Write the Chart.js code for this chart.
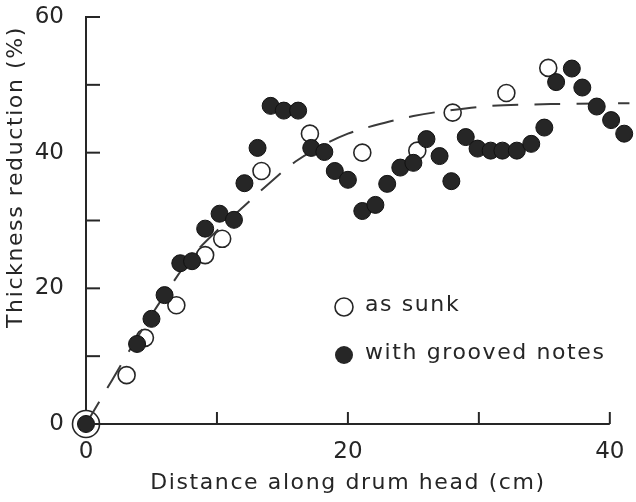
<!DOCTYPE html>
<html>
<head>
<meta charset="utf-8">
<script src="https://cdn.jsdelivr.net/npm/chart.js@4"></script>
<style>
  html, body { margin: 0; padding: 0; background: #fff; }
  #wrap { width: 636px; height: 502px; }
</style>
</head>
<body>
<div id="wrap"><canvas id="chart" width="636" height="502"></canvas></div>
<script>
/* ---------- data ---------- */
const sunkX = [0, 3.1, 4.5, 6.9, 9.1, 10.4, 13.4, 17.1, 21.1, 25.3, 28.0, 32.1, 35.3];
const sunkY = [0, 7.2, 12.7, 17.5, 24.9, 27.3, 37.3, 42.8, 40.0, 40.3, 45.9, 48.8, 52.5];

const groovedX = [0, 3.9, 5.0, 6.0, 7.2, 8.1, 9.1, 10.2, 11.3, 12.1, 13.1, 14.1, 15.1, 16.2,
  17.2, 18.2, 19.0, 20.0, 21.1, 22.1, 23.0, 24.0, 25.0, 26.0, 27.0, 27.9, 29.0, 29.9,
  30.9, 31.8, 32.9, 34.0, 35.0, 35.9, 37.1, 37.9, 39.0, 40.1, 41.1];
const groovedY = [0, 11.8, 15.5, 19.0, 23.7, 24.0, 28.8, 31.0, 30.1, 35.5, 40.7, 46.9, 46.2, 46.2,
  40.7, 40.1, 37.3, 36.0, 31.4, 32.3, 35.4, 37.8, 38.5, 42.0, 39.5, 35.8, 42.3, 40.6,
  40.3, 40.3, 40.3, 41.3, 43.7, 50.4, 52.4, 49.6, 46.8, 44.8, 42.8];

const curveX = [0, 2, 4, 6, 8, 10, 12, 14, 16, 18, 20, 22, 25, 28, 31, 34, 37, 41.5];
const curveY = [0, 6.5, 13, 19, 24.5, 28.5, 32, 35.5, 38.7, 41, 42.8, 44, 45.4, 46.3, 46.9, 47.1, 47.2, 47.3];

const xTicks = [0, 10, 20, 30, 40];
const xLabels = [0, 20, 40];
const yLabels = [0, 20, 40, 60];
const xAxisEnd = 40;

const xTitle = "Distance along drum head (cm)";
const yTitle = "Thickness reduction (%)";
const legendText = ["as sunk", "with grooved notes"];

/* ---------- helpers ---------- */
const pts = (xs, ys) => xs.map((x, i) => ({ x: x, y: ys[i] }));
const INK = "#262626";
const FONT = "'DejaVu Sans', sans-serif";

/* x axis line, inward tick marks, titles and the legend */
const decor = {
  id: "decor",
  afterDraw(chart) {
    const c = chart.ctx;
    const xs = chart.scales.x, ys = chart.scales.y;
    c.save();
    c.strokeStyle = INK;
    c.lineWidth = 2;
    c.beginPath();
    c.moveTo(xs.left, ys.bottom);
    c.lineTo(xs.getPixelForValue(xAxisEnd), ys.bottom);
    c.stroke();
    xTicks.slice(1).forEach(v => {
      const px = xs.getPixelForValue(v);
      c.beginPath(); c.moveTo(px, ys.bottom); c.lineTo(px, ys.bottom - 12); c.stroke();
    });
    for (let v = 10; v <= 60; v += 10) {
      const py = ys.getPixelForValue(v);
      c.beginPath(); c.moveTo(xs.left, py); c.lineTo(xs.left + 14, py); c.stroke();
    }

    c.fillStyle = INK;
    c.font = "22px " + FONT;
    c.letterSpacing = "1.6px";
    c.textBaseline = "middle";
    c.textAlign = "center";
    c.fillText(xTitle, 348, 483);
    c.save();
    c.translate(16, 177);
    c.rotate(-Math.PI / 2);
    c.fillText(yTitle, 0, 0);
    c.restore();

    // legend
    c.textAlign = "left";
    c.lineWidth = 1.6;
    c.beginPath(); c.arc(344, 307, 9, 0, Math.PI * 2);
    c.fillStyle = "#fff"; c.fill(); c.stroke();
    c.beginPath(); c.arc(344, 355, 9, 0, Math.PI * 2);
    c.fillStyle = INK; c.fill();
    c.fillText(legendText[0], 365, 305);
    c.fillText(legendText[1], 365, 353);
    c.restore();
  }
};

new Chart(document.getElementById("chart"), {
  type: "scatter",
  data: {
    datasets: [
      {
        label: legendText[1],
        data: pts(groovedX, groovedY),
        order: 1,
        pointRadius: 8.5,
        pointBackgroundColor: INK,
        pointBorderColor: "#111",
        pointBorderWidth: 1,
        clip: false
      },
      {
        label: "curve",
        data: pts(curveX, curveY),
        order: 2,
        showLine: true,
        tension: 0.35,
        pointRadius: 0,
        borderColor: "#3a3a3a",
        borderWidth: 2,
        borderDash: [26, 16],
        clip: false
      },
      {
        label: legendText[0],
        data: pts(sunkX, sunkY),
        order: 3,
        pointRadius: ctx => (ctx.raw && ctx.raw.x === 0 ? 13.5 : 8.5),
        pointBackgroundColor: "#fff",
        pointBorderColor: INK,
        pointBorderWidth: 1.6,
        clip: false
      }
    ]
  },
  options: {
    responsive: false,
    animation: false,
    layout: { autoPadding: false, padding: { top: 17, right: 0, left: 0, bottom: 0 } },
    plugins: { legend: { display: false }, tooltip: { enabled: false } },
    scales: {
      x: {
        type: "linear",
        min: 0, max: 42,
        afterBuildTicks: s => { s.ticks = xTicks.map(v => ({ value: v })); },
        afterFit: s => { s.height = 78; s.paddingLeft = 0; s.paddingRight = 0; },
        grid: { display: false },
        border: { display: false },
        ticks: {
          padding: 6,
          color: INK,
          maxRotation: 0,
          autoSkip: false,
          font: { family: FONT, size: 23 },
          callback: v => (xLabels.includes(v) ? String(v) : "")
        }
      },
      y: {
        type: "linear",
        min: 0, max: 60,
        afterFit: s => { s.width = 86; s.paddingTop = 0; s.paddingBottom = 0; },
        grid: { display: false },
        border: { display: true, color: INK, width: 2 },
        ticks: {
          stepSize: 10,
          padding: 14,
          color: INK,
          autoSkip: false,
          font: { family: FONT, size: 23 },
          callback: v => (yLabels.includes(v) ? String(v) : "")
        }
      }
    }
  },
  plugins: [decor]
});
</script>
</body>
</html>
